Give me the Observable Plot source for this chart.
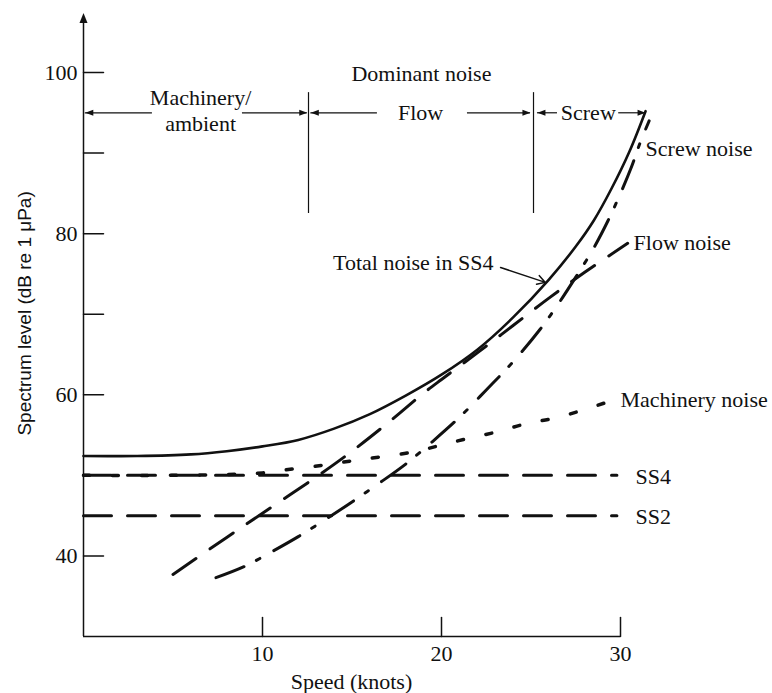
<!DOCTYPE html>
<html><head><meta charset="utf-8">
<script src="https://cdn.jsdelivr.net/npm/d3@7"></script>
<script src="https://cdn.jsdelivr.net/npm/@observablehq/plot@0.6"></script>
<style>body{margin:0;background:#fff}</style>
</head><body><div id="chart"></div>
<script>
// ---- data ----
const speedTicks = [10, 20, 30];
const levelTicks = [40, 50, 60, 70, 80, 90, 100];
const levelLabels = [40, 60, 80, 100];

const totalSpeed = [0, 3, 6, 8, 10, 12, 14, 16, 18, 20, 22, 24, 26, 27.5, 28.5, 29.5, 30.5, 31.4];
const totalLevel = [52.4, 52.4, 52.6, 53, 53.6, 54.4, 55.8, 57.6, 59.9, 62.5, 65.6, 69.6, 74.3, 78.4, 81.6, 85.6, 90.2, 95.2];

const flowSpeed = [5, 8, 10, 13, 15, 17, 19, 20, 22, 24, 26, 28, 30.4];
const flowLevel = [37.7, 42.3, 45.3, 49.8, 53, 56.5, 60.2, 61.9, 65.2, 68.6, 72, 75.2, 78.8];

const screwSpeed = [7.4, 9, 10.5, 12, 13.5, 15, 16.5, 18, 19.5, 21, 22.5, 24, 25.5, 26.5, 27.5, 28.5, 29.3, 30, 30.6, 31.1, 31.6];
const screwLevel = [37.3, 38.7, 40.5, 42.4, 44.5, 46.7, 49, 51.4, 54.2, 57.2, 60.6, 64.1, 68.1, 71.2, 74.6, 78.2, 81.6, 85, 88.2, 91.3, 94];

const machSpeed = [0, 4, 8, 10, 11.7, 13.5, 15, 16.6, 18.4, 19.9, 21.5, 23.1, 24.7, 26.3, 27.9, 29.4];
const machLevel = [50, 50, 50.1, 50.3, 50.8, 51.3, 51.8, 52.3, 52.9, 53.7, 54.6, 55.4, 56.4, 57.1, 58.1, 59.2];

const ambientSpeed = [0, 29.8];
const ss4Level = [50, 50];
const ss2Level = [45, 45];

// dominant-noise regions (knots)
const regionNames = ["Flow", "Screw"];
const regionStart = [0.1, 12.7, 25.36];
const regionEnd = [12.5, 24.97, 31.4];
const gapStart = [3.85, 16.42, 26.48];
const gapEnd = [8.88, 21.45, 29.9];
const dividers = [12.57, 25.14];

// ---- drawing ----
const ink = "#111";
const serif = "'Liberation Serif', 'Times New Roman', serif";
const sans = "'Liberation Sans', Arial, sans-serif";
const pts = (xs, ys) => xs.map((x, i) => ({x, y: ys[i]}));
const tickShape = {draw(context, l) { context.moveTo(0, 0); context.lineTo(0, -l); }};

const segments = [];
regionStart.forEach((s, i) => {
  segments.push({x1: s, x2: gapStart[i]});
  segments.push({x1: gapEnd[i], x2: regionEnd[i]});
});

const txt = (label, x, y, opts = {}) =>
  Plot.text([label], {x, y, text: d => d, fontSize: 22, fontFamily: serif, fill: ink, ...opts});

const plot = Plot.plot({
  width: 772, height: 693,
  marginLeft: 83, marginRight: 152, marginTop: 72, marginBottom: 57,
  x: {domain: [0, 30]},
  y: {domain: [30, 100]},
  style: {fontFamily: serif, background: "white", color: ink, overflow: "visible"},
  marks: [
    Plot.axisX({ticks: speedTicks, tickSize: 0, tickPadding: 9, fontSize: 22, fontFamily: serif, label: null}),
    Plot.axisY({ticks: levelLabels, tickSize: 0, tickPadding: 6, fontSize: 22, fontFamily: serif, label: null}),
    Plot.ruleY([30], {x1: 0, x2: 30, stroke: ink, strokeWidth: 1.5}),
    Plot.ruleX([0], {y1: 30, y2: 106.5, stroke: ink, strokeWidth: 1.5}),
    Plot.vector([107.4], {x: 0, y: d => d, length: 10, r: 4, shape: "spike", anchor: "end", fill: ink, stroke: "none"}),
    Plot.vector(levelTicks, {x: 0, y: d => d, length: 20, rotate: 90, anchor: "start", shape: tickShape, stroke: ink, strokeWidth: 1.5}),
    Plot.vector(speedTicks, {x: d => d, y: 30, length: 19, rotate: 0, anchor: "start", shape: tickShape, stroke: ink, strokeWidth: 1.5}),

    // curves
    Plot.line(pts(ambientSpeed, ss4Level), {x: "x", y: "y", stroke: ink, strokeWidth: 3, strokeDasharray: "28,16"}),
    Plot.line(pts(ambientSpeed, ss2Level), {x: "x", y: "y", stroke: ink, strokeWidth: 3, strokeDasharray: "28,16"}),
    Plot.line(pts(machSpeed, machLevel), {x: "x", y: "y", curve: "catmull-rom", stroke: ink, strokeWidth: 3.5, strokeDasharray: "6,23"}),
    Plot.line(pts(flowSpeed, flowLevel), {x: "x", y: "y", curve: "catmull-rom", stroke: ink, strokeWidth: 3, strokeDasharray: "28,17"}),
    Plot.line(pts(screwSpeed, screwLevel), {x: "x", y: "y", curve: "catmull-rom", stroke: ink, strokeWidth: 3, strokeDasharray: "30,14,4,16"}),
    Plot.line(pts(totalSpeed, totalLevel), {x: "x", y: "y", curve: "catmull-rom", stroke: ink, strokeWidth: 2.6}),

    // dominant-noise annotation
    Plot.ruleY(segments, {y: 95, x1: "x1", x2: "x2", stroke: ink, strokeWidth: 1.2}),
    Plot.vector(regionStart, {x: d => d, y: 95, length: 8, r: 3, rotate: -90, shape: "spike", anchor: "end", fill: ink, stroke: "none"}),
    Plot.vector(regionEnd, {x: d => d, y: 95, length: 8, r: 3, rotate: 90, shape: "spike", anchor: "end", fill: ink, stroke: "none"}),
    Plot.ruleX(dividers, {y1: 82.5, y2: 97.5, stroke: ink, strokeWidth: 1.2}),
    txt("Dominant noise", 18.88, 99.88),
    txt("Machinery/", 6.54, 96.9),
    txt("ambient", 6.54, 93.67),
    txt(regionNames[0], 18.83, 95.03),
    txt(regionNames[1], 28.2, 95.03),

    // curve labels
    txt("Screw noise", 31.4, 90.57, {textAnchor: "start"}),
    txt("Flow noise", 30.73, 78.9, {textAnchor: "start"}),
    txt("Machinery noise", 30.0, 59.3, {textAnchor: "start"}),
    txt("SS4", 30.84, 49.8, {textAnchor: "start"}),
    txt("SS2", 30.84, 44.8, {textAnchor: "start"}),
    txt("Total noise in SS4", 22.9, 76.42, {textAnchor: "end"}),
    Plot.arrow([{x1: 23.3, y1: 75.8, x2: 25.8, y2: 73.95}], {x1: "x1", y1: "y1", x2: "x2", y2: "y2", stroke: ink, strokeWidth: 1.5, headLength: 9}),

    // axis titles
    txt("Speed (knots)", 14.97, 24.3),
    txt("Spectrum level (dB re 1 μPa)", -3.3, 70.1, {rotate: -90, fontFamily: sans, fontSize: 19})
  ]
});
document.getElementById("chart").appendChild(plot);
</script>
</body></html>
